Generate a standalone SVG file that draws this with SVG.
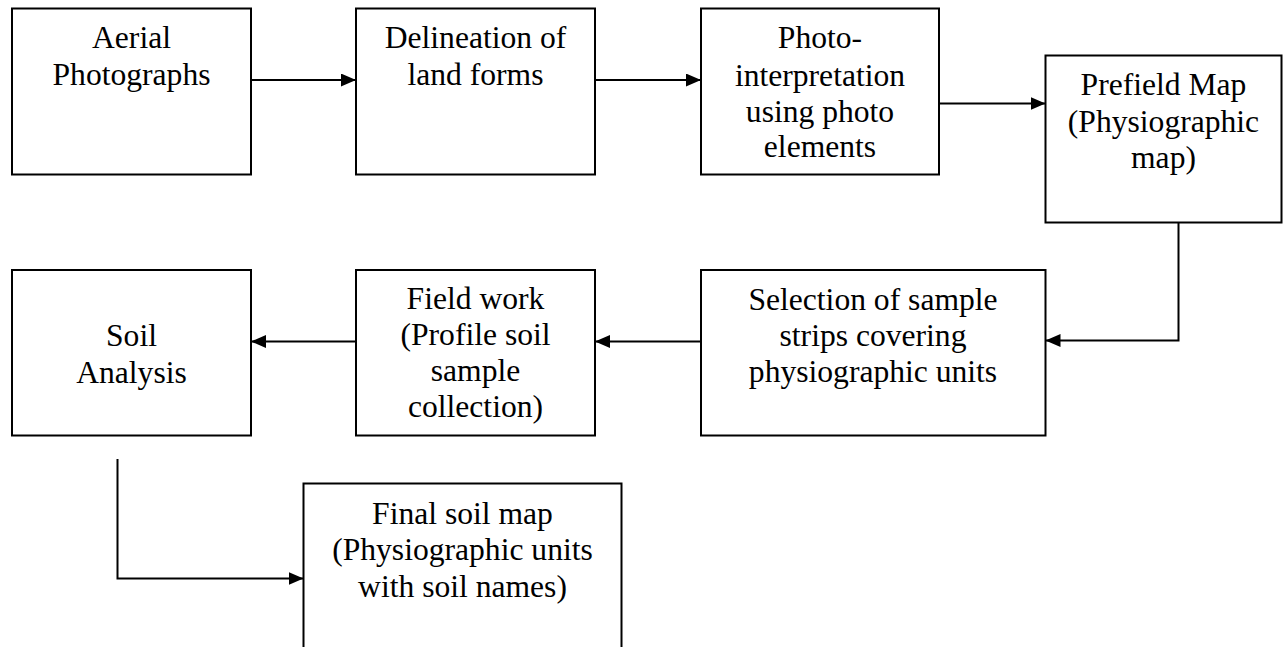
<svg xmlns="http://www.w3.org/2000/svg" width="1283" height="647" viewBox="0 0 1283 647">
<style>
  .box { fill: #ffffff; stroke: #000000; stroke-width: 2; }
  .lbl { font-family: "Liberation Serif", "Times New Roman", serif; font-size: 31.6px; fill: #000000; text-anchor: middle; }
  .conn { fill: none; stroke: #000000; stroke-width: 2; }
</style>
<defs>
  <marker id="arrow" markerUnits="userSpaceOnUse" markerWidth="15" markerHeight="13" refX="15" refY="6.5" orient="auto">
    <path d="M0,0 L15,6.5 L0,13 z" fill="#000000"/>
  </marker>
</defs>
<rect width="1283" height="647" fill="#ffffff"/>

<g id="n1">
  <rect class="box" x="12" y="8.5" width="239" height="166"/>
  <text class="lbl" x="131.5" y="47.5">Aerial</text>
  <text class="lbl" x="131.5" y="85">Photographs</text>
</g>
<g id="n2">
  <rect class="box" x="356" y="8.5" width="239" height="166"/>
  <text class="lbl" x="475.5" y="47.5">Delineation of</text>
  <text class="lbl" x="475.5" y="85">land forms</text>
</g>
<g id="n3">
  <rect class="box" x="701" y="8.5" width="238" height="166"/>
  <text class="lbl" x="820" y="48">Photo-</text>
  <text class="lbl" x="820" y="85.5">interpretation</text>
  <text class="lbl" x="820" y="121.5">using photo</text>
  <text class="lbl" x="820" y="157">elements</text>
</g>
<g id="n4">
  <rect class="box" x="1045.5" y="55.5" width="236" height="167"/>
  <text class="lbl" x="1163.5" y="95">Prefield Map</text>
  <text class="lbl" x="1163.5" y="131.5">(Physiographic</text>
  <text class="lbl" x="1163.5" y="168">map)</text>
</g>
<g id="n5">
  <rect class="box" x="701" y="270" width="344.5" height="165.5"/>
  <text class="lbl" x="873" y="310">Selection of sample</text>
  <text class="lbl" x="873" y="346">strips covering</text>
  <text class="lbl" x="873" y="382">physiographic units</text>
</g>
<g id="n6">
  <rect class="box" x="356" y="270" width="239" height="165.5"/>
  <text class="lbl" x="475.5" y="309">Field work</text>
  <text class="lbl" x="475.5" y="344.5">(Profile soil</text>
  <text class="lbl" x="475.5" y="380.5">sample</text>
  <text class="lbl" x="475.5" y="416.5">collection)</text>
</g>
<g id="n7">
  <rect class="box" x="12" y="270" width="239" height="165.5"/>
  <text class="lbl" x="131.5" y="346">Soil</text>
  <text class="lbl" x="131.5" y="383">Analysis</text>
</g>
<g id="n8">
  <rect class="box" x="303.5" y="483.5" width="318" height="180"/>
  <text class="lbl" x="462.5" y="523.5">Final soil map</text>
  <text class="lbl" x="462.5" y="560">(Physiographic units</text>
  <text class="lbl" x="462.5" y="596.5">with soil names)</text>
</g>

<g id="connectors">
  <line class="conn" x1="251" y1="80" x2="356" y2="80" marker-end="url(#arrow)"/>
  <line class="conn" x1="595" y1="80" x2="701" y2="80" marker-end="url(#arrow)"/>
  <line class="conn" x1="939" y1="103.5" x2="1045.5" y2="103.5" marker-end="url(#arrow)"/>
  <polyline class="conn" points="1178.5,222.5 1178.5,340.5 1045.5,340.5" marker-end="url(#arrow)"/>
  <line class="conn" x1="701" y1="341.5" x2="595" y2="341.5" marker-end="url(#arrow)"/>
  <line class="conn" x1="356" y1="341.5" x2="251" y2="341.5" marker-end="url(#arrow)"/>
  <polyline class="conn" points="117.5,459 117.5,578.5 303.5,578.5" marker-end="url(#arrow)"/>
</g>
</svg>
